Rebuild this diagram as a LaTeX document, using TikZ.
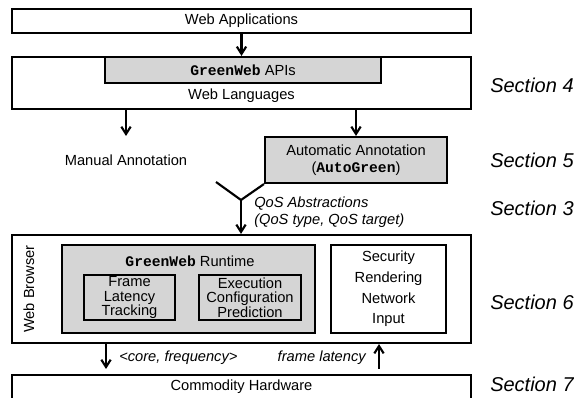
\documentclass[tikz,border=0pt]{standalone}
\usepackage{fontspec}
\setmainfont{Liberation Sans}
\setmonofont{Liberation Mono}
\usetikzlibrary{positioning,calc,arrows.meta}
\definecolor{boxgray}{RGB}{213,213,213}
\def\px{0.75pt}
\newcommand{\gw}[1]{\texttt{\textbf{#1}}}

\begin{document}
\begin{tikzpicture}[x=\px,y=-\px,
    >={Straight Barb[length=5.5pt,width=7pt,line width=1.6pt]},
    every node/.style={inner sep=0pt,font=\fontsize{11}{13}\selectfont},
    layer/.style={draw,line width=1.6pt,minimum width=459*\px},
    graybox/.style={draw,fill=boxgray,align=center},
    sec/.style={anchor=west,font=\fontsize{15}{18}\selectfont\itshape},
    note/.style={font=\fontsize{11}{13}\selectfont\itshape},
    flow/.style={->,line width=1.6pt}]
    \useasboundingbox (0,0) rectangle (574,398);
    % application and language layers
    \node[layer,minimum height=24*\px] (apps) at (241.5,21) {Web Applications};
    \node[layer,minimum height=52*\px] (lang) at (241.5,83) {};
    \node[graybox,line width=0.9pt,minimum width=276*\px,minimum height=26*\px] (apis) at (243,70) {\gw{GreenWeb} APIs};
    \node (langtxt) at (241.5,96) {Web Languages};
    % annotation
    \node (manual) at (126,160) {Manual Annotation};
    \node[graybox,line width=1.6pt,minimum width=182*\px,minimum height=46*\px] (auto) at (356,160) {Automatic Annotation\\(\gw{AutoGreen})};
    \coordinate (mtip) at (126,136);
    \coordinate (vleft) at (216,182);
    \coordinate (vtip) at (241,200);
    \node[note,anchor=west,align=left] (qos) at (254,212) {QoS Abstractions\\(QoS type, QoS target)};
    % browser
    \node[layer,minimum height=108*\px] (browser) at (241.5,289) {};
    \node[rotate=90] (wb) at (29,289) {Web Browser};
    \node[graybox,line width=2pt,minimum width=253*\px,minimum height=88*\px] (runtime) at (188.5,289) {};
    \node (rttxt) at (190,261) {\gw{GreenWeb} Runtime};
    \node[graybox,line width=0.9pt,minimum width=91*\px,minimum height=45*\px,font=\fontsize{11}{11}\selectfont] (track) at (129.5,297.5) {Frame\\Latency\\Tracking};
    \node[graybox,line width=0.9pt,minimum width=102*\px,minimum height=45*\px,font=\fontsize{11}{11}\selectfont] (predict) at (250,297.5) {Execution\\Configuration\\Prediction};
    \node[draw,line width=1.6pt,align=center,minimum width=115*\px,minimum height=88*\px,font=\fontsize{11}{15.5}\selectfont] (modules) at (388.5,289) {Security\\Rendering\\Network\\Input};
    % hardware
    \node[layer,minimum height=24*\px] (hw) at (241.5,387) {Commodity Hardware};
    \coordinate (cdown) at (106,369);
    \coordinate (cup) at (379,369);
    \node[note,anchor=west] (cf) at (119,358) {<core, frequency>};
    \node[note,anchor=east] (fl) at (366,358) {frame latency};
    % sections
    \node[sec] (s4) at (490,85) {Section 4};
    \node[sec] (s5) at (490,160) {Section 5};
    \node[sec] (s3) at (490,208) {Section 3};
    \node[sec] (s6) at (490,302) {Section 6};
    \node[sec] (s7) at (490,384) {Section 7};
    % connectors
    \draw[flow] (apps.south) -- (lang.north);
    \draw[flow] (lang.south -| mtip) -- (mtip);
    \draw[flow] (lang.south -| auto.north) -- (auto.north);
    \draw[line width=1.6pt] (vleft) -- (vtip) -- (auto.south west);
    \draw[flow] (vtip) -- (browser.north -| vtip);
    \draw[flow] (browser.south -| cdown) -- (cdown);
    \draw[flow] (cup) -- (browser.south -| cup);
\end{tikzpicture}
\end{document}
